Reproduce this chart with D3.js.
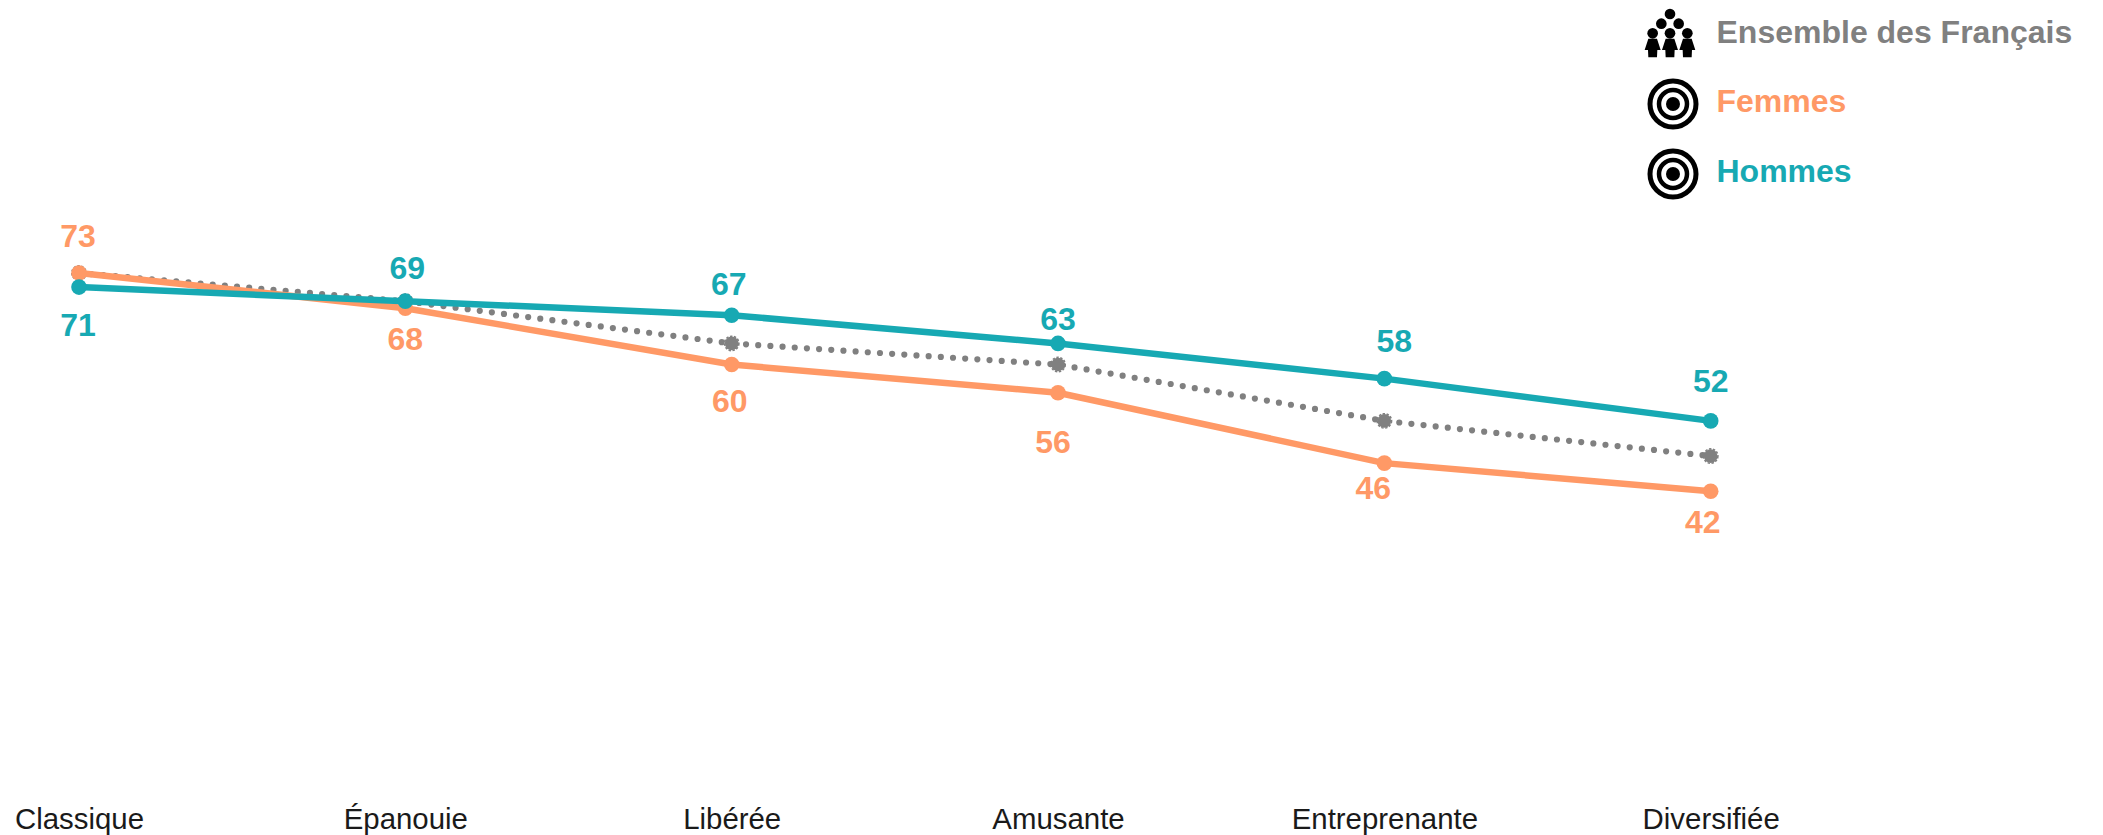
<!DOCTYPE html>
<html><head><meta charset="utf-8">
<script src="https://cdn.jsdelivr.net/npm/d3@7/dist/d3.min.js"></script>
<style>html,body{margin:0;padding:0;background:#fff}svg{display:block}text{font-family:"Liberation Sans",Arial,sans-serif}</style>
</head><body><div id="chart"></div>
<script>
const categories = ["Classique","Épanouie","Libérée","Amusante","Entreprenante","Diversifiée"];
const ensemble = [73,69,63,60,52,47];
const femmes = [73,68,60,56,46,42];
const hommes = [71,69,67,63,58,52];
const legendLabels = ["Ensemble des Français","Femmes","Hommes"];

const W=2103,H=835;
const GRAY="#808080",ORANGE="#FF9966",TEAL="#17A9B3";
const svg=d3.select("#chart").append("svg").attr("width",W).attr("height",H);
const x=d3.scalePoint().domain(categories).range([79,1710.7]);
const y=d3.scaleLinear().domain([73,42]).range([273,491.3]);
const line=d3.line().x((d,i)=>x(categories[i])).y(d=>y(d));

// axis labels
const axis=d3.axisBottom(x).tickSize(0).tickPadding(0);
const gx=svg.append("g").attr("transform","translate(0,802)").call(axis);
gx.select(".domain").remove();
gx.selectAll("text").attr("font-size",29.4).attr("fill","#1a1a1a").attr("dy",0).attr("y",26.5)
  .style("font-family",'"Liberation Sans",Arial,sans-serif');

// lines
svg.append("path").attr("d",line(ensemble)).attr("fill","none").attr("stroke",GRAY)
  .attr("stroke-width",6.2).attr("stroke-linecap","round").attr("stroke-dasharray","0 12.2");
const gGray=svg.append("g");
gGray.selectAll("circle.a").data(ensemble).join("circle").attr("class","a")
  .attr("cx",(d,i)=>x(categories[i])).attr("cy",d=>y(d)).attr("r",6.8).attr("fill",GRAY);
gGray.selectAll("circle.b").data(ensemble).join("circle").attr("class","b")
  .attr("cx",(d,i)=>x(categories[i])).attr("cy",d=>y(d)).attr("r",7.2).attr("fill","none")
  .attr("stroke",GRAY).attr("stroke-width",1.6).attr("stroke-dasharray","2.4 1.6");

function series(vals,color,offsets){
  svg.append("path").attr("d",line(vals)).attr("fill","none").attr("stroke",color).attr("stroke-width",6.5);
  svg.append("g").selectAll("circle").data(vals).join("circle")
    .attr("cx",(d,i)=>x(categories[i])).attr("cy",d=>y(d)).attr("r",7.8).attr("fill",color);
  svg.append("g").selectAll("text").data(vals).join("text")
    .attr("x",(d,i)=>x(categories[i])+offsets[i][0]).attr("y",(d,i)=>y(d)+offsets[i][1])
    .attr("text-anchor","middle").attr("font-size",32).attr("font-weight","bold").attr("fill",color).text(d=>d);
}
series(femmes,ORANGE,[[-1,-26],[0,42],[-2,47],[-5,60],[-11,36],[-8,42]]);
series(hommes,TEAL,[[-1,49],[2,-22],[-3,-20.5],[0,-13],[10,-26.5],[0,-29]]);

// legend
const legendColors=[GRAY,ORANGE,TEAL];
const legendY=[43,112,182];
svg.append("g").selectAll("text").data(legendLabels).join("text")
  .attr("x",1716.5).attr("y",(d,i)=>legendY[i]).attr("font-size",32).attr("font-weight","bold")
  .attr("fill",(d,i)=>legendColors[i]).text(d=>d);

[104,174].forEach(cy=>{
  const g=svg.append("g").attr("transform",`translate(1673,${cy})`);
  g.append("circle").attr("r",23).attr("fill","none").attr("stroke","#000").attr("stroke-width",5);
  g.append("circle").attr("r",14).attr("fill","none").attr("stroke","#000").attr("stroke-width",4.5);
  g.append("circle").attr("r",7).attr("fill","#000");
});
const ppl=svg.append("g").attr("transform","translate(1600,0) scale(0.3333)");
[[210,42],[184,71],[236,71],[158,100],[210,100],[262,100]].forEach(p=>
  ppl.append("circle").attr("cx",p[0]).attr("cy",p[1]).attr("r",16).attr("fill","#000"));
[158,210,262].forEach(cx=>
  ppl.append("path").attr("transform",`translate(${cx},0)`).attr("fill","#000")
   .attr("d","M-13,116 L13,116 L24,150 L14,150 L13,172 L-13,172 L-14,150 L-24,150 Z"));
</script></body></html>
